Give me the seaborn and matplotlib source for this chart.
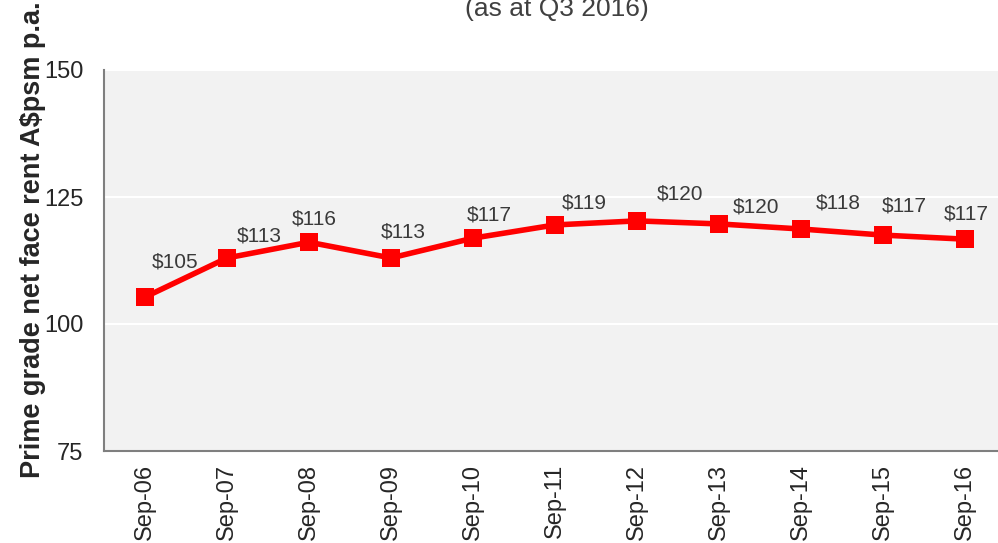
import numpy as np
import pandas as pd
import matplotlib
matplotlib.use("Agg")
import matplotlib.pyplot as plt
import seaborn as sns

# data
periods = ["Sep-06", "Sep-07", "Sep-08", "Sep-09", "Sep-10", "Sep-11",
           "Sep-12", "Sep-13", "Sep-14", "Sep-15", "Sep-16"]
rents = [105.3, 113.0, 116.1, 113.0, 116.9, 119.5, 120.3, 119.7, 118.7, 117.5, 116.7]
labels = ["$105", "$113", "$116", "$113", "$117", "$119",
          "$120", "$120", "$118", "$117", "$117"]
y_ticks = [75, 100, 125, 150]

# label offsets in points (style only)
label_dx = [22, 23, 4, 9, 12, 21, 31, 27, 27, 15, 1]
label_dy = [25, 16, 17, 19, 17, 16, 19, 12, 19, 21, 18]

sns.set_style("white", {"axes.facecolor": "#F2F2F2"})
plt.rcParams["font.family"] = ["Liberation Sans", "DejaVu Sans"]

df = pd.DataFrame({"period": periods, "rent": rents})
df["pos"] = np.arange(len(df))

fig = plt.figure(figsize=(9.98, 5.43), dpi=100)
ax = fig.add_axes([104 / 998, 1 - 451 / 543, 902 / 998, (451 - 70) / 543])

sns.lineplot(data=df, x="pos", y="rent", ax=ax, color="#FF0000", linewidth=4,
             marker="s", markersize=13.5, markeredgewidth=0)

for i, (v, lab) in enumerate(zip(rents, labels)):
    ax.annotate(lab, (i, v), xytext=(label_dx[i], label_dy[i]),
                textcoords="offset points", ha="center", va="center",
                fontsize=15, color="#3A3A3A")

ax.set_xlim(-0.5, len(periods) - 0.5)
ax.set_ylim(75, 150)
ax.set_yticks(y_ticks)
ax.set_xticks(np.arange(len(periods) + 1) - 0.5, minor=False)
ax.set_xticklabels([])
ax.set_xticks(np.arange(len(periods)), minor=True)
ax.set_xticklabels(periods, minor=True, rotation=90, fontsize=17, color="#262626")
ax.tick_params(axis="x", which="minor", length=0, pad=9)
ax.tick_params(axis="x", which="major", direction="inout", length=10, width=1.2, color="#7F7F7F")
ax.tick_params(axis="y", direction="inout", length=10, width=1.2, color="#7F7F7F",
               labelsize=17, labelcolor="#262626", pad=10)

for y in [100, 125, 150]:
    ax.axhline(y, color="white", linewidth=1.5, zorder=0.5)

for side in ["top", "right"]:
    ax.spines[side].set_visible(False)
for side in ["left", "bottom"]:
    ax.spines[side].set_color("#7F7F7F")
    ax.spines[side].set_linewidth(1.5)

ax.set_xlabel("")
ax.set_ylabel("Prime grade net face rent A$psm p.a.", fontsize=19.5,
              fontweight="bold", color="#262626")
ax.yaxis.set_label_coords(-0.064, 0.555)

fig.text(0.558, 1 - 9 / 543, "(as at Q3 2016)", ha="center", va="center",
         fontsize=19, color="#404040")

fig.savefig("out.png", dpi=100)
